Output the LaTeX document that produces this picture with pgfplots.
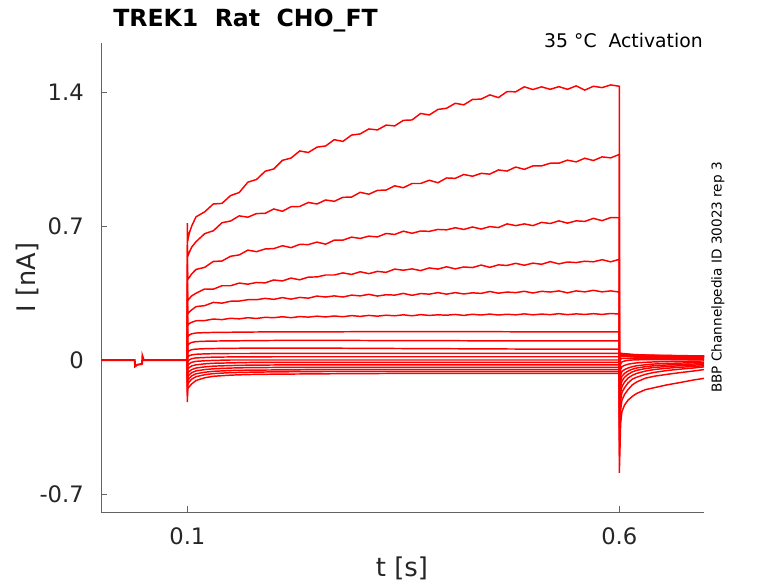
\documentclass[border=0pt]{standalone}
\usepackage{fontspec}
\setmainfont{DejaVu Sans}
\usepackage{pgfplots}
\usepackage{pgfplotstable}
\pgfplotsset{compat=1.18}
\definecolor{axiscol}{RGB}{100,100,100}
\definecolor{tickcol}{RGB}{38,38,38}
% upper six traces
\pgfplotstableread{
t a b c d e f
0.1 0 0 0 0 0 0
0.1 0.715 0.6 0.5 0.4 0.32 0.26
0.1003 0.62 0.54 0.42 0.31 0.24 0.18
0.102 0.66 0.56 0.43 0.32 0.25 0.19
0.105 0.70 0.59 0.45 0.335 0.262 0.197
0.11 0.748 0.618 0.473 0.349 0.279 0.205
0.12 0.774 0.660 0.484 0.371 0.284 0.206
0.13 0.815 0.675 0.515 0.370 0.301 0.214
0.14 0.818 0.717 0.517 0.388 0.297 0.211
0.15 0.859 0.726 0.542 0.388 0.307 0.218
0.16 0.875 0.753 0.549 0.402 0.308 0.215
0.17 0.929 0.746 0.574 0.396 0.315 0.221
0.18 0.943 0.765 0.566 0.405 0.315 0.217
0.19 0.986 0.766 0.580 0.403 0.322 0.223
0.20 0.998 0.789 0.582 0.418 0.317 0.221
0.21 1.043 0.777 0.597 0.413 0.326 0.226
0.22 1.055 0.801 0.587 0.428 0.318 0.221
0.23 1.092 0.802 0.604 0.419 0.327 0.227
0.24 1.084 0.823 0.603 0.433 0.323 0.224
0.25 1.112 0.815 0.616 0.434 0.334 0.229
0.26 1.118 0.836 0.605 0.444 0.329 0.225
0.27 1.151 0.829 0.626 0.444 0.335 0.230
0.28 1.142 0.850 0.626 0.455 0.329 0.226
0.29 1.175 0.851 0.642 0.447 0.339 0.232
0.30 1.181 0.876 0.635 0.461 0.335 0.228
0.31 1.207 0.866 0.647 0.451 0.343 0.233
0.32 1.202 0.886 0.643 0.463 0.334 0.229
0.33 1.227 0.888 0.661 0.458 0.341 0.234
0.34 1.223 0.910 0.656 0.475 0.339 0.231
0.35 1.252 0.900 0.673 0.469 0.348 0.236
0.36 1.254 0.922 0.662 0.476 0.338 0.231
0.37 1.288 0.922 0.674 0.467 0.347 0.237
0.38 1.280 0.939 0.672 0.481 0.344 0.233
0.39 1.309 0.926 0.682 0.475 0.352 0.236
0.40 1.315 0.951 0.680 0.487 0.344 0.234
0.41 1.341 0.949 0.691 0.476 0.352 0.238
0.42 1.333 0.969 0.682 0.486 0.345 0.233
0.43 1.361 0.960 0.695 0.483 0.351 0.239
0.44 1.363 0.975 0.684 0.496 0.348 0.235
0.45 1.385 0.971 0.697 0.484 0.358 0.240
0.46 1.371 0.993 0.692 0.497 0.349 0.235
0.47 1.402 0.987 0.711 0.494 0.355 0.239
0.48 1.401 1.008 0.702 0.505 0.352 0.236
0.49 1.427 0.996 0.711 0.495 0.359 0.241
0.50 1.413 1.014 0.702 0.506 0.350 0.236
0.51 1.427 1.014 0.719 0.500 0.359 0.240
0.52 1.414 1.028 0.713 0.514 0.355 0.237
0.53 1.428 1.028 0.727 0.502 0.361 0.242
0.54 1.414 1.044 0.715 0.512 0.351 0.237
0.55 1.432 1.035 0.727 0.509 0.361 0.241
0.56 1.410 1.054 0.724 0.516 0.356 0.238
0.57 1.430 1.042 0.740 0.513 0.364 0.242
0.58 1.423 1.061 0.728 0.524 0.356 0.238
0.59 1.437 1.056 0.744 0.513 0.361 0.243
0.60 1.430 1.074 0.743 0.526 0.355 0.240
0.6 -0.59 -0.5 -0.42 -0.35 -0.3 -0.25
0.6015 -0.33 -0.26 -0.21 -0.17 -0.14 -0.11
0.603 -0.27 -0.21 -0.17 -0.14 -0.11 -0.085
0.606 -0.235 -0.18 -0.145 -0.115 -0.09 -0.07
0.61 -0.21 -0.155 -0.12 -0.095 -0.075 -0.058
0.615 -0.19 -0.13 -0.1 -0.08 -0.062 -0.048
0.62 -0.175 -0.115 -0.09 -0.07 -0.054 -0.042
0.63 -0.155 -0.095 -0.075 -0.058 -0.045 -0.035
0.64 -0.145 -0.085 -0.065 -0.05 -0.039 -0.03
0.655 -0.13 -0.075 -0.055 -0.043 -0.034 -0.026
0.67 -0.118 -0.066 -0.048 -0.038 -0.03 -0.023
0.685 -0.105 -0.058 -0.042 -0.034 -0.027 -0.021
0.698 -0.096 -0.05 -0.036 -0.03 -0.024 -0.019
}\uppertab
% lower twelve traces
\pgfplotstableread{
t g h i j k l m n o p q r
0.1 0 0 0 0 0 0 0 0 0 0 0 0
0.1 0.2 0.15 0.1 0.07 -0.05 -0.08 -0.1 -0.12 -0.14 -0.17 -0.19 -0.22
0.1003 0.12 0.075 0.04 0.015 -0.01 -0.03 -0.05 -0.07 -0.09 -0.11 -0.13 -0.15
0.102 0.13 0.085 0.048 0.022 0.0 -0.02 -0.04 -0.06 -0.078 -0.097 -0.115 -0.14
0.105 0.137 0.092 0.054 0.027 0.007 -0.012 -0.031 -0.05 -0.066 -0.083 -0.1 -0.125
0.11 0.141 0.096 0.057 0.03 0.011 -0.007 -0.025 -0.042 -0.057 -0.072 -0.087 -0.107
0.12 0.143 0.098 0.059 0.032 0.013 -0.004 -0.02 -0.036 -0.05 -0.064 -0.077 -0.093
0.13 0.144 0.099 0.06 0.033 0.015 -0.002 -0.017 -0.032 -0.046 -0.059 -0.071 -0.085
0.15 0.145 0.1 0.061 0.034 0.016 0 -0.015 -0.029 -0.042 -0.055 -0.066 -0.079
0.17 0.146 0.101 0.062 0.034 0.016 0 -0.013 -0.027 -0.04 -0.053 -0.064 -0.076
0.2 0.147 0.102 0.062 0.035 0.017 0 -0.012 -0.026 -0.039 -0.052 -0.062 -0.074
0.23 0.147 0.102 0.062 0.035 0.017 0 -0.012 -0.025 -0.038 -0.051 -0.061 -0.073
0.26 0.147 0.102 0.062 0.035 0.017 0 -0.012 -0.025 -0.038 -0.05 -0.06 -0.072
0.3 0.148 0.102 0.061 0.035 0.017 0 -0.012 -0.025 -0.038 -0.05 -0.06 -0.071
0.35 0.148 0.101 0.06 0.035 0.017 0 -0.012 -0.025 -0.038 -0.05 -0.06 -0.07
0.4 0.148 0.101 0.059 0.035 0.017 0 -0.012 -0.025 -0.038 -0.05 -0.06 -0.07
0.45 0.148 0.1 0.058 0.035 0.017 0 -0.012 -0.025 -0.038 -0.05 -0.06 -0.07
0.5 0.147 0.1 0.057 0.035 0.017 0 -0.012 -0.025 -0.038 -0.05 -0.06 -0.07
0.55 0.147 0.1 0.057 0.035 0.017 0 -0.012 -0.025 -0.038 -0.05 -0.06 -0.07
0.6 0.147 0.1 0.057 0.035 0.017 0 -0.012 -0.025 -0.038 -0.05 -0.06 -0.07
0.6 -0.2 -0.15 -0.1 -0.05 0.017 0 -0.012 -0.025 -0.038 -0.05 -0.06 -0.07
0.6015 -0.08 -0.05 -0.02 0.005 0.02 0.025 0.028 0.03 0.032 0.033 0.034 0.035
0.603 -0.06 -0.035 -0.01 0.008 0.02 0.025 0.028 0.03 0.031 0.032 0.033 0.034
0.606 -0.05 -0.028 -0.005 0.009 0.019 0.024 0.027 0.029 0.03 0.031 0.032 0.033
0.61 -0.042 -0.022 -0.002 0.009 0.018 0.022 0.025 0.027 0.028 0.029 0.03 0.031
0.615 -0.035 -0.018 0 0.008 0.016 0.02 0.023 0.025 0.026 0.027 0.028 0.029
0.62 -0.03 -0.015 0.001 0.008 0.015 0.019 0.022 0.024 0.025 0.026 0.027 0.028
0.63 -0.025 -0.012 0.002 0.007 0.013 0.017 0.02 0.022 0.023 0.024 0.025 0.026
0.64 -0.021 -0.01 0.002 0.007 0.012 0.016 0.019 0.021 0.022 0.023 0.024 0.025
0.655 -0.018 -0.008 0.002 0.006 0.011 0.015 0.018 0.02 0.021 0.022 0.023 0.024
0.67 -0.016 -0.007 0.002 0.005 0.01 0.014 0.017 0.019 0.02 0.021 0.022 0.023
0.685 -0.014 -0.006 0.002 0.005 0.009 0.013 0.016 0.018 0.019 0.02 0.021 0.022
0.698 -0.013 -0.005 0.002 0.004 0.009 0.012 0.016 0.018 0.019 0.02 0.021 0.022
}\lowertab
\begin{document}
\begin{tikzpicture}
\useasboundingbox (-75.75pt,-53.25pt) rectangle (507.75pt,384pt);
\begin{axis}[
  at={(0,0)}, anchor=south west,
  scale only axis, width=452.25pt, height=351.75pt,
  xmin=0, xmax=0.698, ymin=-0.794, ymax=1.656,
  axis lines=left,
  axis line style={-, draw=axiscol, line width=0.6pt},
  tick align=inside, major tick length=4.5pt,
  tick style={draw=axiscol, line width=0.6pt},
  xtick={0.1,0.6}, ytick={-0.7,0,0.7,1.4},
  xticklabels={0.1,0.6}, yticklabels={-0.7,0,0.7,1.4},
  ticklabel style={font=\fontsize{17}{20}\selectfont, text=tickcol, inner sep=0pt},
  xticklabel style={anchor=north, yshift=-11.25pt},
  yticklabel style={anchor=east, xshift=-12.75pt},
]
\addplot[red, line width=1.5pt] coordinates {(0,0) (0.039,0) (0.0395,-0.033) (0.042,-0.025) (0.0475,-0.02) (0.048,0.02) (0.0495,0) (0.1,0)};
\pgfplotsinvokeforeach{g,h,i,j,k,l,m,n,o,p,q,r}{
  \addplot[red, line width=1.1pt] table[x=t, y=#1] {\lowertab};
}
\pgfplotsinvokeforeach{a,b,c,d,e,f}{
  \addplot[red, line width=1.1pt] table[x=t, y=#1] {\uppertab};
}
\end{axis}
\begin{scope}[every node/.style={inner sep=0pt}]
\node[anchor=base west, font=\bfseries\fontsize{17.7}{20}\selectfont] at (9pt,364.1pt) {TREK1\ \ Rat\ \ CHO\_FT};
\node[anchor=base east, font=\fontsize{14.1}{16}\selectfont, text=black] at (451.5pt,348.5pt) {35 °C\ \ Activation};
\node[anchor=base, font=\fontsize{19.4}{22}\selectfont, text=tickcol] at (225.75pt,-48.5pt) {t [s]};
\node[anchor=base, rotate=90, font=\fontsize{19.2}{22}\selectfont, text=tickcol] at (-48.75pt,175.9pt) {I [nA]};
\node[anchor=base, rotate=90, font=\fontsize{10.2}{12}\selectfont] at (465.5pt,175.9pt) {BBP Channelpedia ID 30023 rep 3};
\end{scope}
\end{tikzpicture}
\end{document}
